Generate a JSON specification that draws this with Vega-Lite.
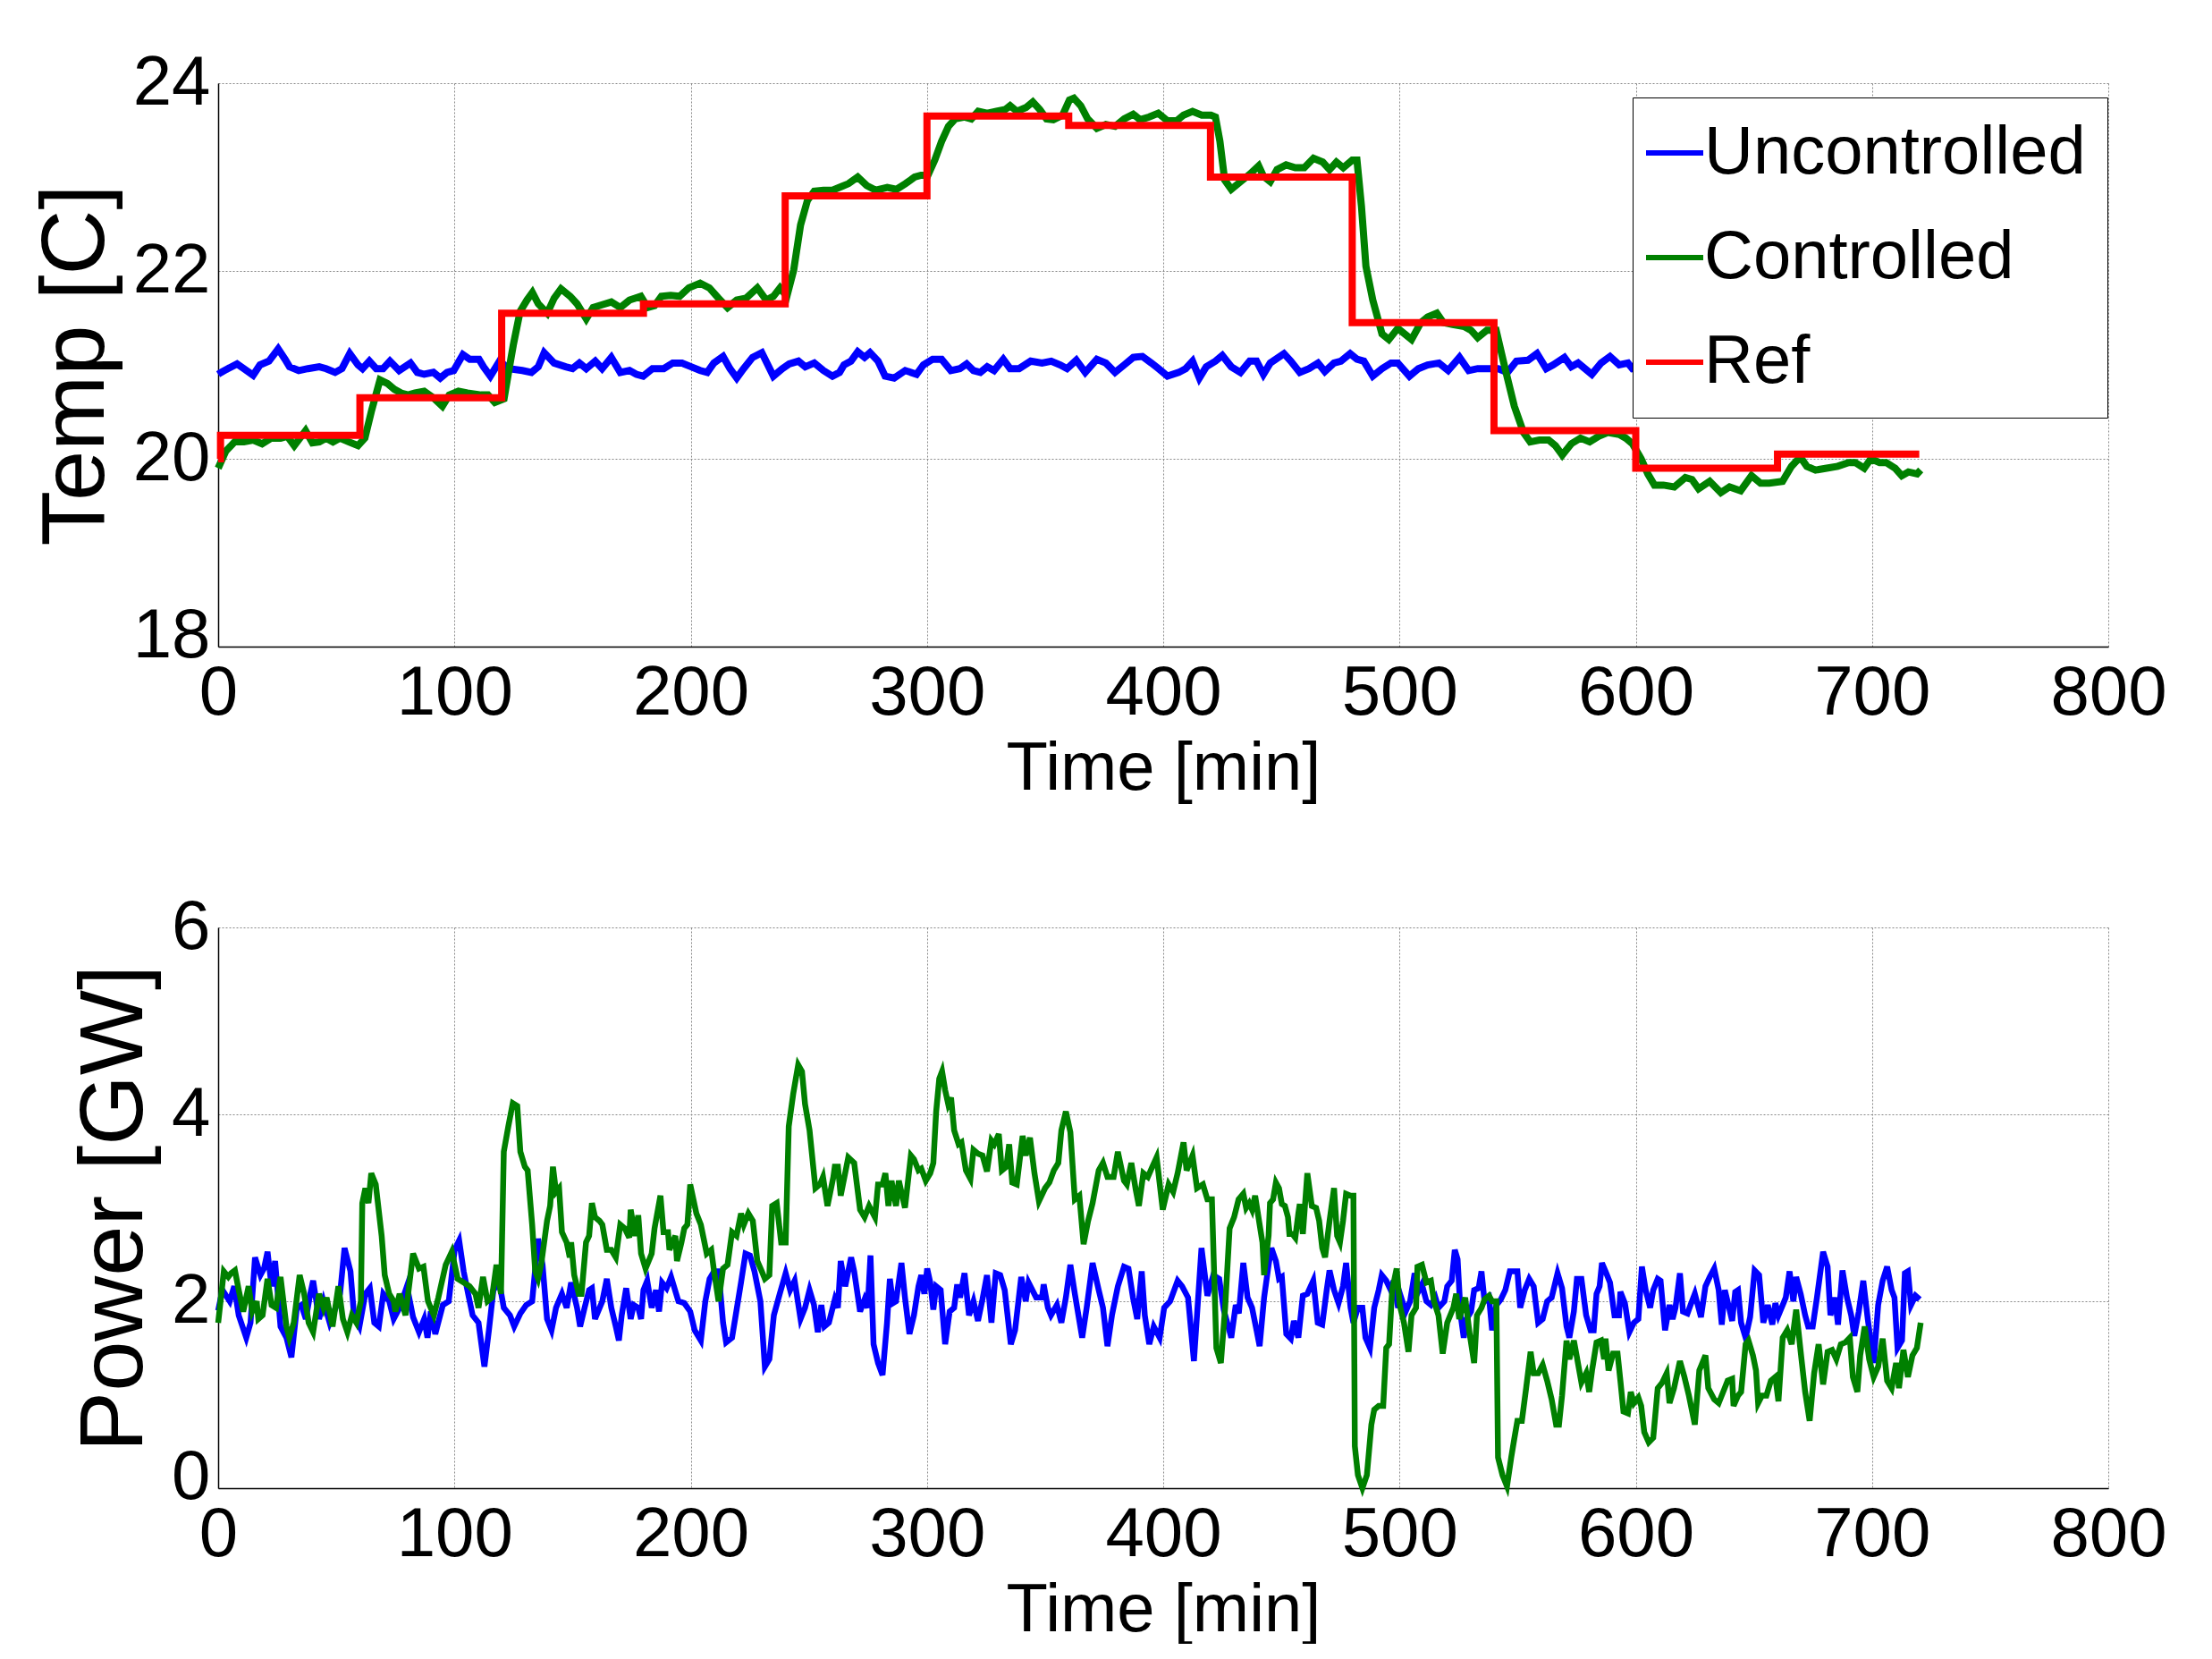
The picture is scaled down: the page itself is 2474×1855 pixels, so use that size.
{
  "$schema": "https://vega.github.io/schema/vega-lite/v6.json",
  "background": "white",
  "padding": {"left": 34, "top": 54, "right": 0, "bottom": 0},
  "spacing": 101,
  "resolve": {"scale": {"color": "independent"}, "legend": {"color": "independent"}},
  "datasets": {
    "tu": [{"t":0,"v":20.9},{"t":1.2,"v":20.92},{"t":4.1,"v":20.96},{"t":8,"v":21.01},{"t":10.9,"v":20.96},{"t":14.8,"v":20.89},{"t":17.7,"v":21.0},{"t":21.5,"v":21.04},{"t":25.4,"v":21.17},{"t":28.3,"v":21.06},{"t":30.2,"v":20.98},{"t":34.1,"v":20.94},{"t":38,"v":20.96},{"t":42.8,"v":20.98},{"t":45.7,"v":20.96},{"t":49.5,"v":20.92},{"t":52.4,"v":20.96},{"t":55.7,"v":21.12},{"t":59.2,"v":21.0},{"t":61.1,"v":20.96},{"t":64,"v":21.04},{"t":66.9,"v":20.96},{"t":69.8,"v":20.96},{"t":72.7,"v":21.04},{"t":76.6,"v":20.94},{"t":81.4,"v":21.02},{"t":84.3,"v":20.92},{"t":87.2,"v":20.9},{"t":91.1,"v":20.92},{"t":94,"v":20.86},{"t":96.9,"v":20.92},{"t":99.7,"v":20.94},{"t":103.6,"v":21.11},{"t":106.5,"v":21.06},{"t":110.4,"v":21.06},{"t":112.3,"v":20.98},{"t":115.2,"v":20.88},{"t":119.1,"v":21.04},{"t":123,"v":20.96},{"t":128.7,"v":20.94},{"t":132.6,"v":20.92},{"t":135.5,"v":20.98},{"t":138,"v":21.13},{"t":142.2,"v":21.02},{"t":147.1,"v":20.98},{"t":150,"v":20.96},{"t":152.9,"v":21.02},{"t":155.8,"v":20.96},{"t":159.6,"v":21.04},{"t":162.5,"v":20.96},{"t":166.4,"v":21.08},{"t":170.2,"v":20.92},{"t":174.1,"v":20.94},{"t":177,"v":20.9},{"t":179.9,"v":20.88},{"t":183.8,"v":20.96},{"t":188.6,"v":20.96},{"t":192.4,"v":21.02},{"t":196.3,"v":21.02},{"t":200.2,"v":20.98},{"t":204,"v":20.94},{"t":207,"v":20.92},{"t":209.8,"v":21.02},{"t":213.7,"v":21.09},{"t":216.6,"v":20.96},{"t":219.5,"v":20.86},{"t":222.4,"v":20.96},{"t":226.2,"v":21.08},{"t":230.1,"v":21.13},{"t":235,"v":20.88},{"t":238.8,"v":20.96},{"t":241.7,"v":21.01},{"t":245.6,"v":21.04},{"t":248.5,"v":20.98},{"t":252.3,"v":21.02},{"t":256.2,"v":20.94},{"t":260,"v":20.88},{"t":263,"v":20.92},{"t":264.9,"v":21.0},{"t":267.8,"v":21.04},{"t":270.7,"v":21.14},{"t":273.6,"v":21.08},{"t":275.9,"v":21.13},{"t":279.3,"v":21.04},{"t":282.3,"v":20.88},{"t":286.1,"v":20.86},{"t":290.8,"v":20.94},{"t":295.6,"v":20.9},{"t":298.5,"v":21.0},{"t":302.4,"v":21.06},{"t":306.2,"v":21.06},{"t":310.1,"v":20.94},{"t":313.9,"v":20.96},{"t":316.8,"v":21.01},{"t":319.7,"v":20.94},{"t":322.6,"v":20.92},{"t":325.5,"v":20.98},{"t":328.4,"v":20.94},{"t":332.3,"v":21.06},{"t":335.2,"v":20.96},{"t":339,"v":20.96},{"t":343.9,"v":21.04},{"t":348.7,"v":21.02},{"t":352.6,"v":21.04},{"t":356.4,"v":21.0},{"t":359.3,"v":20.96},{"t":363.2,"v":21.05},{"t":367,"v":20.92},{"t":371.9,"v":21.06},{"t":375.7,"v":21.02},{"t":379.6,"v":20.92},{"t":383.5,"v":21.0},{"t":387.3,"v":21.08},{"t":391.2,"v":21.09},{"t":395,"v":21.02},{"t":398,"v":20.96},{"t":401.8,"v":20.88},{"t":406.6,"v":20.92},{"t":409.5,"v":20.96},{"t":412.4,"v":21.04},{"t":415.3,"v":20.86},{"t":418.2,"v":20.98},{"t":422.1,"v":21.04},{"t":425,"v":21.1},{"t":428.8,"v":20.98},{"t":432.7,"v":20.92},{"t":436.6,"v":21.04},{"t":439.5,"v":21.04},{"t":442.4,"v":20.9},{"t":445.3,"v":21.02},{"t":451.1,"v":21.12},{"t":454,"v":21.04},{"t":457.8,"v":20.92},{"t":461.7,"v":20.96},{"t":465.5,"v":21.02},{"t":468.4,"v":20.93},{"t":472.3,"v":21.02},{"t":475.2,"v":21.04},{"t":479.1,"v":21.12},{"t":482,"v":21.06},{"t":484.9,"v":21.04},{"t":488.7,"v":20.88},{"t":492.6,"v":20.96},{"t":496.4,"v":21.02},{"t":499.3,"v":21.02},{"t":504.2,"v":20.88},{"t":508,"v":20.96},{"t":511.9,"v":21.0},{"t":516.7,"v":21.02},{"t":520.6,"v":20.94},{"t":525.4,"v":21.08},{"t":529.3,"v":20.94},{"t":533.1,"v":20.96},{"t":538,"v":20.96},{"t":541.8,"v":20.96},{"t":545.7,"v":20.92},{"t":549.5,"v":21.04},{"t":554.4,"v":21.05},{"t":558.2,"v":21.12},{"t":562.1,"v":20.96},{"t":565,"v":21.0},{"t":569.8,"v":21.08},{"t":572.7,"v":20.98},{"t":575.6,"v":21.02},{"t":581.4,"v":20.9},{"t":585.3,"v":21.02},{"t":589.1,"v":21.09},{"t":593,"v":21.0},{"t":596.7,"v":21.02},{"t":598.6,"v":20.96},{"t":605,"v":20.98},{"t":615,"v":21.02},{"t":625,"v":20.94},{"t":635,"v":21.04},{"t":645,"v":20.96},{"t":655,"v":21.0},{"t":665,"v":20.92},{"t":675,"v":21.04},{"t":685,"v":20.98},{"t":695,"v":21.02},{"t":705,"v":20.94},{"t":715,"v":21.0},{"t":720,"v":20.98}],
    "tc": [{"t":0,"v":19.9},{"t":3.2,"v":20.08},{"t":7,"v":20.18},{"t":10.9,"v":20.18},{"t":14.8,"v":20.2},{"t":18.6,"v":20.16},{"t":22.5,"v":20.22},{"t":26.4,"v":20.22},{"t":29.3,"v":20.24},{"t":32.2,"v":20.14},{"t":37,"v":20.3},{"t":39.9,"v":20.17},{"t":42.8,"v":20.18},{"t":45.7,"v":20.22},{"t":48.6,"v":20.18},{"t":51.5,"v":20.22},{"t":55.3,"v":20.18},{"t":59.2,"v":20.14},{"t":62.1,"v":20.22},{"t":65,"v":20.52},{"t":68.5,"v":20.84},{"t":71.7,"v":20.8},{"t":74.6,"v":20.74},{"t":77.5,"v":20.7},{"t":80.4,"v":20.68},{"t":83.3,"v":20.7},{"t":87.2,"v":20.72},{"t":91.1,"v":20.65},{"t":94.9,"v":20.56},{"t":97.8,"v":20.68},{"t":101.7,"v":20.72},{"t":105.5,"v":20.7},{"t":111.3,"v":20.68},{"t":114.2,"v":20.68},{"t":117.1,"v":20.6},{"t":121,"v":20.64},{"t":122.9,"v":20.92},{"t":124.9,"v":21.21},{"t":127.8,"v":21.57},{"t":130.7,"v":21.69},{"t":133,"v":21.77},{"t":135.5,"v":21.65},{"t":139.3,"v":21.55},{"t":142.2,"v":21.71},{"t":145.1,"v":21.81},{"t":149,"v":21.73},{"t":151.9,"v":21.65},{"t":155.8,"v":21.49},{"t":158.7,"v":21.61},{"t":162.5,"v":21.64},{"t":166.4,"v":21.67},{"t":170.2,"v":21.61},{"t":174.1,"v":21.69},{"t":178.9,"v":21.73},{"t":181.8,"v":21.61},{"t":184.7,"v":21.63},{"t":187.6,"v":21.73},{"t":191.5,"v":21.74},{"t":195.3,"v":21.73},{"t":199.2,"v":21.82},{"t":204,"v":21.87},{"t":207.9,"v":21.82},{"t":211.8,"v":21.71},{"t":215.6,"v":21.61},{"t":219.5,"v":21.69},{"t":223.4,"v":21.71},{"t":228.2,"v":21.82},{"t":232,"v":21.69},{"t":235,"v":21.73},{"t":237.8,"v":21.82},{"t":240.7,"v":21.73},{"t":243.6,"v":22.01},{"t":246.5,"v":22.49},{"t":249.4,"v":22.75},{"t":252.3,"v":22.85},{"t":256.2,"v":22.86},{"t":260,"v":22.86},{"t":263.9,"v":22.9},{"t":266.8,"v":22.93},{"t":270.7,"v":23.0},{"t":274.5,"v":22.91},{"t":278.4,"v":22.86},{"t":283.2,"v":22.89},{"t":287.1,"v":22.87},{"t":290.9,"v":22.93},{"t":294.8,"v":23.0},{"t":297.5,"v":23.02},{"t":300.4,"v":23.02},{"t":303.3,"v":23.18},{"t":306.2,"v":23.38},{"t":309.1,"v":23.54},{"t":312,"v":23.62},{"t":315.9,"v":23.64},{"t":318.8,"v":23.62},{"t":321.7,"v":23.7},{"t":325.5,"v":23.68},{"t":329.4,"v":23.7},{"t":333.2,"v":23.72},{"t":335.2,"v":23.76},{"t":338.1,"v":23.7},{"t":341.9,"v":23.74},{"t":344.8,"v":23.8},{"t":347.7,"v":23.72},{"t":350.6,"v":23.62},{"t":353.5,"v":23.61},{"t":357.4,"v":23.66},{"t":360.3,"v":23.82},{"t":362.2,"v":23.84},{"t":365.1,"v":23.76},{"t":368,"v":23.62},{"t":371.9,"v":23.52},{"t":375.7,"v":23.56},{"t":379.6,"v":23.54},{"t":383.5,"v":23.62},{"t":387.3,"v":23.67},{"t":390.2,"v":23.61},{"t":394.1,"v":23.64},{"t":397.9,"v":23.68},{"t":401.8,"v":23.6},{"t":405.7,"v":23.6},{"t":408.6,"v":23.66},{"t":412.4,"v":23.7},{"t":416.3,"v":23.66},{"t":420.2,"v":23.66},{"t":422.1,"v":23.64},{"t":424,"v":23.38},{"t":426,"v":22.97},{"t":428.8,"v":22.87},{"t":432.7,"v":22.95},{"t":436.6,"v":23.03},{"t":440.4,"v":23.12},{"t":442.4,"v":23.01},{"t":445.3,"v":22.95},{"t":448.2,"v":23.08},{"t":452,"v":23.13},{"t":455.9,"v":23.1},{"t":459.7,"v":23.1},{"t":463.6,"v":23.2},{"t":467.5,"v":23.16},{"t":470.4,"v":23.08},{"t":473.3,"v":23.16},{"t":476.2,"v":23.1},{"t":480,"v":23.18},{"t":482,"v":23.18},{"t":483.9,"v":22.69},{"t":485.8,"v":22.05},{"t":488.7,"v":21.69},{"t":492.6,"v":21.33},{"t":495.5,"v":21.27},{"t":499.3,"v":21.39},{"t":502.2,"v":21.33},{"t":505.1,"v":21.27},{"t":509,"v":21.45},{"t":511.9,"v":21.51},{"t":515.8,"v":21.55},{"t":518.6,"v":21.45},{"t":522.5,"v":21.43},{"t":527.3,"v":21.41},{"t":530.2,"v":21.37},{"t":533.1,"v":21.29},{"t":537,"v":21.37},{"t":540.9,"v":21.37},{"t":544.7,"v":20.96},{"t":548.6,"v":20.56},{"t":552.5,"v":20.28},{"t":555.3,"v":20.18},{"t":559.2,"v":20.2},{"t":563.1,"v":20.2},{"t":566,"v":20.14},{"t":568.9,"v":20.04},{"t":572.7,"v":20.16},{"t":576.6,"v":20.22},{"t":580.5,"v":20.18},{"t":584.3,"v":20.24},{"t":588.2,"v":20.28},{"t":593,"v":20.26},{"t":595.8,"v":20.22},{"t":598.6,"v":20.16},{"t":602.3,"v":20.0},{"t":605.1,"v":19.84},{"t":607.9,"v":19.72},{"t":611.7,"v":19.72},{"t":616.3,"v":19.7},{"t":621,"v":19.8},{"t":623.8,"v":19.78},{"t":626.6,"v":19.68},{"t":631.3,"v":19.76},{"t":636,"v":19.64},{"t":639.7,"v":19.7},{"t":644.4,"v":19.66},{"t":649,"v":19.82},{"t":652.8,"v":19.74},{"t":656.5,"v":19.74},{"t":662.1,"v":19.76},{"t":665.9,"v":19.92},{"t":669.6,"v":20.02},{"t":672.4,"v":19.92},{"t":676.1,"v":19.88},{"t":680.8,"v":19.9},{"t":685.5,"v":19.92},{"t":690.1,"v":19.96},{"t":692.9,"v":19.96},{"t":696.7,"v":19.9},{"t":699.5,"v":20.0},{"t":703.2,"v":19.96},{"t":706,"v":19.96},{"t":709.8,"v":19.9},{"t":712.6,"v":19.82},{"t":715.4,"v":19.86},{"t":719.1,"v":19.84},{"t":720.6,"v":19.88}],
    "tr": [{"t":0,"v":20.0},{"t":1,"v":20.25},{"t":60,"v":20.65},{"t":120,"v":21.55},{"t":180,"v":21.65},{"t":240,"v":22.8},{"t":300,"v":23.65},{"t":360,"v":23.55},{"t":420,"v":23.0},{"t":480,"v":21.45},{"t":540,"v":20.3},{"t":600,"v":19.9},{"t":660,"v":20.05},{"t":720,"v":20.05}],
    "pu": [{"t":0,"v":1.9},{"t":1.8,"v":2.12},{"t":4.9,"v":2.0},{"t":6.8,"v":2.16},{"t":8.7,"v":1.85},{"t":11.9,"v":1.61},{"t":13.7,"v":1.77},{"t":15.6,"v":2.47},{"t":17.9,"v":2.28},{"t":19.4,"v":2.35},{"t":20.9,"v":2.53},{"t":22.6,"v":2.16},{"t":24.1,"v":2.43},{"t":26.4,"v":1.73},{"t":28.9,"v":1.61},{"t":31,"v":1.4},{"t":33.3,"v":1.93},{"t":35.2,"v":1.96},{"t":37.1,"v":1.81},{"t":39,"v":2.08},{"t":40.2,"v":2.22},{"t":42.7,"v":1.81},{"t":44.6,"v":2.0},{"t":47.2,"v":1.77},{"t":49.7,"v":1.93},{"t":51.6,"v":2.08},{"t":53.5,"v":2.57},{"t":56,"v":2.32},{"t":57.5,"v":1.85},{"t":59.8,"v":1.73},{"t":62.3,"v":2.08},{"t":64.2,"v":2.14},{"t":66.1,"v":1.77},{"t":68,"v":1.73},{"t":69.9,"v":2.08},{"t":72.4,"v":2.0},{"t":74.3,"v":1.81},{"t":76.8,"v":1.93},{"t":79.9,"v":2.16},{"t":82.5,"v":1.83},{"t":85,"v":1.67},{"t":87.2,"v":1.81},{"t":88.6,"v":1.61},{"t":90,"v":1.89},{"t":91.9,"v":1.65},{"t":95.1,"v":1.96},{"t":97.6,"v":2.0},{"t":100.1,"v":2.55},{"t":102,"v":2.65},{"t":103.9,"v":2.32},{"t":105.8,"v":2.08},{"t":107.7,"v":1.85},{"t":110.2,"v":1.77},{"t":112.7,"v":1.3},{"t":114.6,"v":1.69},{"t":116.5,"v":2.12},{"t":119,"v":2.2},{"t":120.9,"v":1.93},{"t":123.5,"v":1.85},{"t":125.3,"v":1.73},{"t":127.9,"v":1.87},{"t":130.4,"v":1.96},{"t":132.9,"v":2.0},{"t":135.4,"v":2.67},{"t":137.3,"v":2.39},{"t":139.2,"v":1.81},{"t":141.1,"v":1.69},{"t":143,"v":1.93},{"t":145.5,"v":2.08},{"t":147.5,"v":1.93},{"t":149.4,"v":2.2},{"t":151.9,"v":1.93},{"t":153.2,"v":1.73},{"t":155.1,"v":1.93},{"t":157,"v":2.12},{"t":158.2,"v":2.14},{"t":159.5,"v":1.81},{"t":162.6,"v":2.0},{"t":164.5,"v":2.24},{"t":166.4,"v":1.93},{"t":168.3,"v":1.73},{"t":169.6,"v":1.58},{"t":170.8,"v":1.85},{"t":172.7,"v":2.14},{"t":174.6,"v":1.81},{"t":175.9,"v":1.96},{"t":177.8,"v":1.93},{"t":179,"v":1.81},{"t":180,"v":2.12},{"t":181.6,"v":2.22},{"t":183.5,"v":1.93},{"t":185.3,"v":2.12},{"t":186.6,"v":1.89},{"t":187.9,"v":2.2},{"t":189.8,"v":2.14},{"t":191.7,"v":2.26},{"t":194.8,"v":2.0},{"t":197.3,"v":1.98},{"t":199.8,"v":1.89},{"t":201.7,"v":1.69},{"t":204.3,"v":1.58},{"t":206.2,"v":2.0},{"t":208,"v":2.24},{"t":209.9,"v":2.32},{"t":211.8,"v":2.32},{"t":213.7,"v":1.77},{"t":215,"v":1.56},{"t":217.5,"v":1.61},{"t":218.8,"v":1.81},{"t":221.3,"v":2.2},{"t":223.2,"v":2.51},{"t":225.1,"v":2.49},{"t":227,"v":2.32},{"t":229.5,"v":2.0},{"t":231.4,"v":1.3},{"t":233.3,"v":1.38},{"t":235.2,"v":1.85},{"t":237.7,"v":2.08},{"t":240.2,"v":2.3},{"t":242.1,"v":2.12},{"t":244,"v":2.22},{"t":246.5,"v":1.81},{"t":248.4,"v":1.93},{"t":250.3,"v":2.12},{"t":252.2,"v":1.96},{"t":253.8,"v":1.67},{"t":255.3,"v":1.96},{"t":256.6,"v":1.73},{"t":258.5,"v":1.77},{"t":261,"v":2.02},{"t":262.3,"v":1.93},{"t":263.5,"v":2.43},{"t":265.4,"v":2.16},{"t":267.9,"v":2.47},{"t":269.2,"v":2.32},{"t":271.7,"v":1.89},{"t":273.6,"v":2.02},{"t":274.9,"v":1.93},{"t":276.1,"v":2.49},{"t":277.4,"v":1.54},{"t":279.3,"v":1.34},{"t":281.2,"v":1.21},{"t":283.1,"v":1.77},{"t":284.3,"v":2.24},{"t":285.6,"v":1.98},{"t":286.9,"v":2.0},{"t":289.2,"v":2.41},{"t":290.7,"v":2.04},{"t":292.6,"v":1.65},{"t":294.5,"v":1.85},{"t":296.4,"v":2.16},{"t":297.6,"v":2.28},{"t":298.9,"v":2.08},{"t":300.1,"v":2.35},{"t":301.4,"v":2.2},{"t":302.7,"v":1.91},{"t":303.9,"v":2.16},{"t":305.8,"v":2.12},{"t":307.7,"v":1.54},{"t":309.6,"v":1.89},{"t":311.5,"v":1.93},{"t":312.8,"v":2.18},{"t":314,"v":2.04},{"t":315.9,"v":2.3},{"t":317.8,"v":1.85},{"t":319.7,"v":2.0},{"t":321.6,"v":1.79},{"t":323.5,"v":2.02},{"t":325.4,"v":2.28},{"t":327.3,"v":1.77},{"t":329.1,"v":2.3},{"t":331,"v":2.28},{"t":332.9,"v":2.12},{"t":335.5,"v":1.54},{"t":337.3,"v":1.69},{"t":339.9,"v":2.26},{"t":341.8,"v":2.0},{"t":343,"v":2.2},{"t":346.2,"v":2.04},{"t":348.7,"v":2.04},{"t":349.4,"v":2.18},{"t":351.2,"v":1.93},{"t":352.5,"v":1.85},{"t":355,"v":1.96},{"t":356.9,"v":1.77},{"t":358.8,"v":2.04},{"t":360.7,"v":2.39},{"t":362.6,"v":2.08},{"t":365.7,"v":1.61},{"t":367.6,"v":1.93},{"t":370.1,"v":2.41},{"t":372.7,"v":2.12},{"t":374.5,"v":1.93},{"t":376.4,"v":1.52},{"t":378.3,"v":1.85},{"t":380.8,"v":2.16},{"t":383.4,"v":2.37},{"t":385.3,"v":2.35},{"t":387.2,"v":2.04},{"t":389,"v":1.81},{"t":390.9,"v":2.32},{"t":392.2,"v":1.85},{"t":394.1,"v":1.54},{"t":396,"v":1.73},{"t":398.5,"v":1.61},{"t":400.4,"v":1.93},{"t":402.9,"v":2.0},{"t":406.1,"v":2.22},{"t":408,"v":2.16},{"t":410.5,"v":2.04},{"t":413,"v":1.36},{"t":416.2,"v":2.57},{"t":418.7,"v":2.06},{"t":421.2,"v":2.28},{"t":423.7,"v":2.24},{"t":425.6,"v":1.91},{"t":428.8,"v":1.61},{"t":430.7,"v":1.96},{"t":432,"v":1.87},{"t":433.9,"v":2.41},{"t":435.7,"v":2.04},{"t":437.6,"v":1.93},{"t":439.5,"v":1.69},{"t":440.8,"v":1.52},{"t":442.7,"v":2.04},{"t":444.6,"v":2.39},{"t":445.8,"v":2.57},{"t":447.7,"v":2.43},{"t":449,"v":2.24},{"t":450.2,"v":2.26},{"t":452.1,"v":1.65},{"t":454,"v":1.6},{"t":455.3,"v":1.79},{"t":457.2,"v":1.61},{"t":459.1,"v":2.06},{"t":461,"v":2.08},{"t":463.5,"v":2.22},{"t":465.4,"v":1.77},{"t":467.3,"v":1.75},{"t":469.2,"v":2.12},{"t":470.4,"v":2.33},{"t":472.3,"v":2.12},{"t":474.2,"v":1.98},{"t":476.1,"v":2.16},{"t":477.4,"v":2.41},{"t":479.3,"v":1.93},{"t":480.5,"v":1.77},{"t":482.4,"v":1.93},{"t":484.3,"v":1.93},{"t":485.6,"v":1.61},{"t":487.5,"v":1.5},{"t":489.3,"v":1.93},{"t":491.2,"v":2.12},{"t":492.5,"v":2.28},{"t":494.4,"v":2.22},{"t":496.3,"v":2.12},{"t":497.5,"v":2.22},{"t":499.4,"v":1.93},{"t":500.7,"v":2.04},{"t":502.6,"v":1.89},{"t":504.5,"v":2.0},{"t":506.4,"v":2.3},{"t":508.3,"v":2.12},{"t":509.5,"v":2.18},{"t":511.4,"v":2.0},{"t":513.3,"v":1.96},{"t":515.2,"v":2.04},{"t":516.5,"v":1.93},{"t":519,"v":2.0},{"t":520.2,"v":2.16},{"t":522.1,"v":2.22},{"t":523.4,"v":2.55},{"t":524.6,"v":2.45},{"t":525.9,"v":1.85},{"t":527.2,"v":1.61},{"t":528.4,"v":1.81},{"t":530.3,"v":1.89},{"t":531.6,"v":2.12},{"t":533.5,"v":2.14},{"t":534.7,"v":2.32},{"t":536,"v":2.0},{"t":537.9,"v":2.04},{"t":539.2,"v":1.69},{"t":541,"v":1.96},{"t":542.9,"v":2.02},{"t":544.8,"v":2.12},{"t":546.7,"v":2.32},{"t":548.6,"v":2.32},{"t":549.9,"v":2.32},{"t":551.1,"v":1.93},{"t":553,"v":2.12},{"t":554.9,"v":2.24},{"t":556.8,"v":2.16},{"t":558.7,"v":1.77},{"t":560.6,"v":1.81},{"t":562.5,"v":2.0},{"t":564.4,"v":2.04},{"t":566.9,"v":2.3},{"t":568.8,"v":2.14},{"t":570.7,"v":1.73},{"t":571.9,"v":1.61},{"t":573.8,"v":1.89},{"t":575.1,"v":2.24},{"t":577,"v":2.24},{"t":579,"v":1.85},{"t":580.9,"v":1.69},{"t":582.2,"v":1.69},{"t":583.4,"v":2.08},{"t":584.7,"v":2.16},{"t":585.7,"v":2.41},{"t":587.2,"v":2.32},{"t":589.1,"v":2.2},{"t":591,"v":1.85},{"t":592.9,"v":1.85},{"t":593.5,"v":2.1},{"t":595.4,"v":1.98},{"t":597.3,"v":1.67},{"t":599.2,"v":1.77},{"t":601.1,"v":1.81},{"t":602.6,"v":2.37},{"t":604.2,"v":2.12},{"t":606.1,"v":1.93},{"t":607.4,"v":2.12},{"t":609.3,"v":2.24},{"t":610.5,"v":2.22},{"t":612.4,"v":1.69},{"t":614.3,"v":1.96},{"t":615.6,"v":1.81},{"t":616.8,"v":1.93},{"t":618.7,"v":2.3},{"t":620,"v":1.89},{"t":621.9,"v":1.87},{"t":623.2,"v":1.96},{"t":625,"v":2.08},{"t":627.6,"v":1.83},{"t":629.5,"v":2.16},{"t":631.3,"v":2.26},{"t":633.2,"v":2.35},{"t":635.1,"v":2.12},{"t":636.4,"v":1.75},{"t":637.7,"v":2.12},{"t":639.5,"v":1.93},{"t":640.8,"v":1.79},{"t":642.1,"v":2.1},{"t":643.3,"v":2.12},{"t":644.6,"v":1.77},{"t":646.5,"v":1.61},{"t":648.4,"v":1.83},{"t":650.3,"v":2.33},{"t":652.2,"v":2.28},{"t":654,"v":1.77},{"t":655.9,"v":1.96},{"t":657.8,"v":1.75},{"t":659.1,"v":1.98},{"t":660.4,"v":1.85},{"t":662.2,"v":1.96},{"t":663.5,"v":2.04},{"t":665.1,"v":2.32},{"t":666.7,"v":2.0},{"t":667.9,"v":2.26},{"t":669.8,"v":2.08},{"t":671.7,"v":1.85},{"t":673,"v":1.73},{"t":674.9,"v":1.73},{"t":676.7,"v":2.04},{"t":679.3,"v":2.53},{"t":681.2,"v":2.37},{"t":682.4,"v":1.85},{"t":684.3,"v":2.04},{"t":685.6,"v":1.75},{"t":687.5,"v":2.33},{"t":689.4,"v":2.04},{"t":691.2,"v":1.85},{"t":692.5,"v":1.63},{"t":694.4,"v":1.89},{"t":696.3,"v":2.22},{"t":698.2,"v":1.81},{"t":700.7,"v":1.34},{"t":702.6,"v":1.96},{"t":704.5,"v":2.22},{"t":706.4,"v":2.37},{"t":708.3,"v":2.12},{"t":709.5,"v":2.04},{"t":710.8,"v":1.5},{"t":712.7,"v":1.58},{"t":713.9,"v":2.3},{"t":715.2,"v":2.32},{"t":716.5,"v":1.96},{"t":718.4,"v":2.06},{"t":720.2,"v":2.02}],
    "pc": [{"t":0,"v":1.77},{"t":2.4,"v":2.32},{"t":4.3,"v":2.26},{"t":5.5,"v":2.3},{"t":7.1,"v":2.33},{"t":8.7,"v":2.12},{"t":10.6,"v":1.89},{"t":12.9,"v":2.16},{"t":14.4,"v":1.89},{"t":16.3,"v":2.0},{"t":17,"v":1.81},{"t":18.8,"v":1.85},{"t":20.9,"v":2.24},{"t":22.6,"v":1.96},{"t":24.5,"v":1.93},{"t":26.4,"v":2.26},{"t":28.9,"v":1.73},{"t":30.1,"v":1.61},{"t":32,"v":1.77},{"t":34.5,"v":2.28},{"t":36.4,"v":2.08},{"t":38.3,"v":1.77},{"t":40.2,"v":1.67},{"t":42.7,"v":2.08},{"t":44.6,"v":1.93},{"t":45.9,"v":2.04},{"t":48.4,"v":1.73},{"t":50.9,"v":2.16},{"t":52.8,"v":1.81},{"t":54.7,"v":1.67},{"t":56.6,"v":1.85},{"t":58.5,"v":1.77},{"t":60.4,"v":2.0},{"t":61,"v":3.05},{"t":62.3,"v":3.21},{"t":63.6,"v":3.05},{"t":64.8,"v":3.37},{"t":66.7,"v":3.25},{"t":69.2,"v":2.7},{"t":70.5,"v":2.28},{"t":72.4,"v":2.08},{"t":74.3,"v":2.0},{"t":75,"v":1.89},{"t":76.8,"v":2.08},{"t":79.3,"v":1.85},{"t":82.5,"v":2.51},{"t":85,"v":2.35},{"t":86.9,"v":2.37},{"t":88.8,"v":2.0},{"t":91.3,"v":1.85},{"t":93.2,"v":2.04},{"t":96.3,"v":2.39},{"t":98.9,"v":2.53},{"t":101.4,"v":2.24},{"t":103.9,"v":2.2},{"t":106.4,"v":2.16},{"t":108.9,"v":2.08},{"t":110.2,"v":1.93},{"t":112.1,"v":2.26},{"t":114,"v":2.0},{"t":115.9,"v":2.04},{"t":117.8,"v":2.39},{"t":119.7,"v":2.08},{"t":120.9,"v":3.6},{"t":122.8,"v":3.87},{"t":124.7,"v":4.12},{"t":126.6,"v":4.09},{"t":127.9,"v":3.6},{"t":129.8,"v":3.44},{"t":131,"v":3.4},{"t":132.9,"v":2.82},{"t":134.2,"v":2.32},{"t":135.4,"v":2.24},{"t":136.7,"v":2.39},{"t":139.2,"v":2.86},{"t":140.5,"v":3.02},{"t":141.7,"v":3.44},{"t":143,"v":3.17},{"t":144.3,"v":3.21},{"t":145.5,"v":2.74},{"t":147.5,"v":2.63},{"t":148.8,"v":2.47},{"t":149.4,"v":2.63},{"t":150.7,"v":2.28},{"t":152.6,"v":2.08},{"t":153.8,"v":2.08},{"t":155.7,"v":2.63},{"t":157,"v":2.7},{"t":158.2,"v":3.05},{"t":159.5,"v":2.9},{"t":161.4,"v":2.86},{"t":162.6,"v":2.82},{"t":164.5,"v":2.55},{"t":166.4,"v":2.55},{"t":168.3,"v":2.47},{"t":170.2,"v":2.82},{"t":172.1,"v":2.78},{"t":174,"v":2.68},{"t":174.6,"v":2.98},{"t":176.5,"v":2.7},{"t":177.8,"v":2.92},{"t":179,"v":2.51},{"t":180.9,"v":2.35},{"t":183.5,"v":2.51},{"t":184.7,"v":2.78},{"t":187.2,"v":3.13},{"t":188.5,"v":2.74},{"t":190.4,"v":2.74},{"t":191,"v":2.55},{"t":193.5,"v":2.7},{"t":194.2,"v":2.43},{"t":196.1,"v":2.63},{"t":197.3,"v":2.78},{"t":198.6,"v":2.82},{"t":199.8,"v":3.25},{"t":202.4,"v":2.94},{"t":204.3,"v":2.82},{"t":205.5,"v":2.67},{"t":206.8,"v":2.51},{"t":208.7,"v":2.55},{"t":209.9,"v":2.32},{"t":211.8,"v":2.0},{"t":213.7,"v":2.35},{"t":215.6,"v":2.39},{"t":217.5,"v":2.74},{"t":219.4,"v":2.7},{"t":221.3,"v":2.94},{"t":222.5,"v":2.82},{"t":224.4,"v":2.94},{"t":226.3,"v":2.86},{"t":228.2,"v":2.43},{"t":230.1,"v":2.32},{"t":231.4,"v":2.24},{"t":233.3,"v":2.28},{"t":234.5,"v":3.02},{"t":236.4,"v":3.05},{"t":238.3,"v":2.63},{"t":240.2,"v":2.63},{"t":241.5,"v":3.87},{"t":243.4,"v":4.22},{"t":245.5,"v":4.53},{"t":247.1,"v":4.46},{"t":248.4,"v":4.11},{"t":250.3,"v":3.83},{"t":252.8,"v":3.21},{"t":254.7,"v":3.25},{"t":256,"v":3.33},{"t":257.9,"v":3.02},{"t":260.4,"v":3.33},{"t":261,"v":3.44},{"t":262.3,"v":3.44},{"t":263.5,"v":3.13},{"t":266.7,"v":3.54},{"t":269.2,"v":3.48},{"t":271.7,"v":2.98},{"t":273.6,"v":2.9},{"t":275.5,"v":3.02},{"t":278,"v":2.9},{"t":279.3,"v":3.25},{"t":281.2,"v":3.25},{"t":282.4,"v":3.37},{"t":283.7,"v":3.02},{"t":285,"v":3.29},{"t":286.9,"v":3.02},{"t":288.1,"v":3.29},{"t":290.7,"v":3.0},{"t":293.2,"v":3.56},{"t":294.5,"v":3.52},{"t":296.4,"v":3.4},{"t":297.6,"v":3.42},{"t":299.5,"v":3.29},{"t":301.4,"v":3.37},{"t":302.7,"v":3.48},{"t":303.9,"v":4.03},{"t":305.2,"v":4.38},{"t":306.4,"v":4.46},{"t":307.7,"v":4.26},{"t":309,"v":4.11},{"t":310.2,"v":4.18},{"t":311.5,"v":3.83},{"t":313.4,"v":3.68},{"t":314.6,"v":3.7},{"t":316.5,"v":3.4},{"t":318.4,"v":3.31},{"t":319.7,"v":3.62},{"t":321.6,"v":3.58},{"t":323.5,"v":3.56},{"t":325.4,"v":3.39},{"t":327.3,"v":3.72},{"t":328.5,"v":3.68},{"t":330.4,"v":3.79},{"t":331.7,"v":3.4},{"t":333.6,"v":3.44},{"t":334.8,"v":3.68},{"t":336.1,"v":3.27},{"t":338,"v":3.25},{"t":340.5,"v":3.77},{"t":341.8,"v":3.56},{"t":343.6,"v":3.75},{"t":345.5,"v":3.37},{"t":347.4,"v":3.07},{"t":350,"v":3.21},{"t":351.8,"v":3.27},{"t":353.7,"v":3.4},{"t":355.6,"v":3.48},{"t":356.9,"v":3.83},{"t":358.8,"v":4.03},{"t":360.7,"v":3.81},{"t":362.6,"v":3.09},{"t":364.5,"v":3.13},{"t":366.3,"v":2.61},{"t":368.2,"v":2.86},{"t":370.1,"v":3.05},{"t":372.7,"v":3.4},{"t":374.5,"v":3.48},{"t":376.4,"v":3.33},{"t":379,"v":3.33},{"t":380.8,"v":3.6},{"t":383.4,"v":3.29},{"t":384.6,"v":3.25},{"t":386.5,"v":3.48},{"t":388.4,"v":3.19},{"t":389.7,"v":3.02},{"t":391.6,"v":3.37},{"t":393.5,"v":3.33},{"t":395.4,"v":3.44},{"t":397.2,"v":3.54},{"t":399.8,"v":2.98},{"t":402.3,"v":3.25},{"t":404.2,"v":3.17},{"t":406.1,"v":3.37},{"t":408.6,"v":3.7},{"t":409.9,"v":3.4},{"t":412.4,"v":3.56},{"t":414.3,"v":3.21},{"t":416.8,"v":3.25},{"t":418.7,"v":3.09},{"t":420.6,"v":3.09},{"t":422.5,"v":1.5},{"t":424.4,"v":1.34},{"t":426.2,"v":1.93},{"t":428.1,"v":2.78},{"t":430,"v":2.9},{"t":431.9,"v":3.09},{"t":433.9,"v":3.15},{"t":435.1,"v":3.0},{"t":436.4,"v":3.05},{"t":437.6,"v":2.98},{"t":438.9,"v":3.13},{"t":440.8,"v":2.82},{"t":442,"v":2.63},{"t":442.7,"v":2.28},{"t":444.6,"v":2.7},{"t":445.2,"v":3.05},{"t":446.5,"v":3.09},{"t":447.7,"v":3.27},{"t":449,"v":3.21},{"t":450.2,"v":3.04},{"t":451.5,"v":3.02},{"t":452.8,"v":2.9},{"t":453.4,"v":2.72},{"t":454.7,"v":2.72},{"t":455.9,"v":2.68},{"t":457.2,"v":2.94},{"t":457.8,"v":3.04},{"t":459.1,"v":2.72},{"t":461,"v":3.37},{"t":462.9,"v":3.02},{"t":464.7,"v":3.0},{"t":466,"v":2.86},{"t":467.3,"v":2.57},{"t":468.5,"v":2.47},{"t":470.4,"v":2.86},{"t":472.3,"v":3.21},{"t":473.6,"v":2.7},{"t":474.8,"v":2.63},{"t":476.1,"v":2.86},{"t":477.4,"v":3.15},{"t":479.3,"v":3.13},{"t":480.5,"v":3.13},{"t":481.1,"v":0.45},{"t":482.4,"v":0.14},{"t":484.3,"v":0.0},{"t":486.2,"v":0.14},{"t":488.1,"v":0.68},{"t":489.3,"v":0.84},{"t":491.2,"v":0.88},{"t":493.1,"v":0.88},{"t":494.4,"v":1.5},{"t":495.6,"v":1.54},{"t":496.9,"v":2.12},{"t":498.8,"v":2.35},{"t":500.1,"v":1.96},{"t":501.9,"v":1.77},{"t":503.8,"v":1.46},{"t":505.1,"v":1.85},{"t":507,"v":1.93},{"t":507.6,"v":2.37},{"t":509.5,"v":2.39},{"t":511.4,"v":2.2},{"t":513.3,"v":2.22},{"t":514.6,"v":2.0},{"t":516.5,"v":1.85},{"t":518.3,"v":1.44},{"t":520.2,"v":1.77},{"t":522.8,"v":1.93},{"t":524,"v":2.08},{"t":525.3,"v":1.81},{"t":527.8,"v":2.04},{"t":529.7,"v":1.65},{"t":531.6,"v":1.34},{"t":532.8,"v":1.85},{"t":534.7,"v":1.93},{"t":536,"v":2.02},{"t":537.9,"v":2.06},{"t":539.2,"v":2.0},{"t":541,"v":2.0},{"t":541.7,"v":0.33},{"t":543.6,"v":0.14},{"t":545.5,"v":0.02},{"t":547.3,"v":0.33},{"t":548.6,"v":0.53},{"t":549.9,"v":0.72},{"t":551.8,"v":0.72},{"t":553.6,"v":1.07},{"t":555.5,"v":1.46},{"t":556.8,"v":1.23},{"t":558.7,"v":1.23},{"t":560.6,"v":1.32},{"t":562.5,"v":1.15},{"t":564.4,"v":0.95},{"t":566.3,"v":0.68},{"t":567.5,"v":0.68},{"t":568.8,"v":0.99},{"t":570.7,"v":1.58},{"t":571.9,"v":1.38},{"t":573.8,"v":1.58},{"t":575.1,"v":1.4},{"t":577,"v":1.13},{"t":579,"v":1.23},{"t":580.3,"v":1.03},{"t":581.5,"v":1.26},{"t":583.4,"v":1.56},{"t":585.3,"v":1.58},{"t":586.6,"v":1.38},{"t":587.2,"v":1.6},{"t":588.5,"v":1.26},{"t":590.4,"v":1.44},{"t":592.3,"v":1.44},{"t":593.5,"v":1.15},{"t":594.8,"v":0.82},{"t":596.7,"v":0.8},{"t":597.9,"v":1.03},{"t":599.2,"v":0.91},{"t":601.1,"v":0.97},{"t":602.3,"v":0.88},{"t":603.6,"v":0.6},{"t":605.5,"v":0.49},{"t":607.4,"v":0.54},{"t":609.3,"v":1.07},{"t":611.2,"v":1.13},{"t":613.1,"v":1.23},{"t":614.3,"v":0.91},{"t":616.2,"v":1.07},{"t":618.7,"v":1.36},{"t":620.6,"v":1.19},{"t":622.5,"v":0.99},{"t":625,"v":0.68},{"t":626.9,"v":1.26},{"t":629.5,"v":1.42},{"t":630.7,"v":1.07},{"t":633.2,"v":0.95},{"t":635.1,"v":0.91},{"t":637,"v":1.03},{"t":638.9,"v":1.15},{"t":640.8,"v":1.17},{"t":641.4,"v":0.88},{"t":643.3,"v":0.99},{"t":644.6,"v":1.03},{"t":646.5,"v":1.54},{"t":647.7,"v":1.58},{"t":649.6,"v":1.42},{"t":650.9,"v":1.26},{"t":651.8,"v":0.91},{"t":653.4,"v":0.99},{"t":655.3,"v":0.99},{"t":657.2,"v":1.15},{"t":659.1,"v":1.19},{"t":660.4,"v":0.93},{"t":662.2,"v":1.61},{"t":664.1,"v":1.69},{"t":666,"v":1.54},{"t":667.9,"v":1.91},{"t":669.8,"v":1.46},{"t":671.7,"v":1.03},{"t":673.6,"v":0.72},{"t":675.5,"v":1.23},{"t":677.4,"v":1.54},{"t":679.3,"v":1.11},{"t":681.2,"v":1.46},{"t":683.1,"v":1.48},{"t":684.9,"v":1.38},{"t":686.8,"v":1.54},{"t":688.7,"v":1.56},{"t":690.6,"v":1.61},{"t":691.9,"v":1.19},{"t":693.8,"v":1.03},{"t":695,"v":1.42},{"t":696.9,"v":1.73},{"t":698.8,"v":1.38},{"t":700.7,"v":1.19},{"t":702.6,"v":1.3},{"t":704.5,"v":1.6},{"t":706.4,"v":1.15},{"t":708.3,"v":1.07},{"t":710.2,"v":1.34},{"t":711.4,"v":1.07},{"t":713.3,"v":1.48},{"t":715.2,"v":1.19},{"t":717.1,"v":1.42},{"t":719,"v":1.5},{"t":720.6,"v":1.77}]
  },
  "vconcat": [
    {
      "width": 2114,
      "height": 630,
      "encoding": {
        "x": {"field": "t", "type": "quantitative", "scale": {"domain": [0, 800], "nice": false}, "axis": {"values": [0,100,200,300,400,500,600,700,800], "title": "Time [min]"}},
        "y": {"field": "v", "type": "quantitative", "scale": {"domain": [18, 24], "nice": false}, "axis": {"values": [18,20,22,24], "title": "Temp [C]", "labelOffset": {"condition": {"test": "datum.value == 18", "value": -12}, "value": 0}}}
      },
      "layer": [
        {"data": {"name": "tu"}, "mark": {"type": "line", "strokeWidth": 8}, "encoding": {"color": {"datum": "Uncontrolled", "scale": {"domain": ["Uncontrolled","Controlled","Ref"], "range": ["#0000ff","#008000","#ff0000"]}}}},
        {"data": {"name": "tc"}, "mark": {"type": "line", "strokeWidth": 8}, "encoding": {"color": {"datum": "Controlled"}}},
        {"data": {"name": "tr"}, "mark": {"type": "line", "strokeWidth": 8, "interpolate": "step-after"}, "encoding": {"color": {"datum": "Ref"}}}
      ]
    },
    {
      "width": 2114,
      "height": 627,
      "encoding": {
        "x": {"field": "t", "type": "quantitative", "scale": {"domain": [0, 800], "nice": false}, "axis": {"values": [0,100,200,300,400,500,600,700,800], "title": "Time [min]"}},
        "y": {"field": "v", "type": "quantitative", "scale": {"domain": [0, 6], "nice": false}, "axis": {"values": [0,2,4,6], "title": "Power [GW]", "labelOffset": {"condition": {"test": "datum.value == 0", "value": -12}, "value": 0}}}
      },
      "layer": [
        {"data": {"name": "pu"}, "mark": {"type": "line", "strokeWidth": 6.5, "color": "#0000ff"}},
        {"data": {"name": "pc"}, "mark": {"type": "line", "strokeWidth": 6.5, "color": "#008000"}}
      ]
    }
  ],
  "config": {
    "font": "Liberation Sans",
    "view": {"stroke": null},
    "axis": {"domainColor": "#000000", "domainWidth": 1.5, "gridColor": "#888888", "gridDash": [2, 2], "gridWidth": 1, "ticks": false, "labelFont": "Liberation Sans", "labelFontSize": 78, "labelColor": "#000000", "titleFont": "Liberation Sans", "titleFontSize": 76, "titleFontWeight": "normal", "titleColor": "#000000", "labelOverlap": false, "labelFlush": false, "labelBound": false},
    "axisX": {"labelPadding": 13, "titlePadding": 8},
    "axisY": {"labelPadding": 9, "titlePadding": 12, "titleFontSize": 101},
    "legend": {"orient": "none", "legendX": 1582, "legendY": 16, "title": null, "symbolType": "stroke", "symbolSize": 4096, "symbolStrokeWidth": 6, "symbolOffset": -15, "labelFont": "Liberation Sans", "labelFontSize": 76, "labelColor": "#000000", "labelOffset": -5, "labelLimit": 0, "padding": 24, "rowPadding": 41, "strokeColor": "#000000", "fillColor": "#ffffff", "zindex": 1}
  }
}
